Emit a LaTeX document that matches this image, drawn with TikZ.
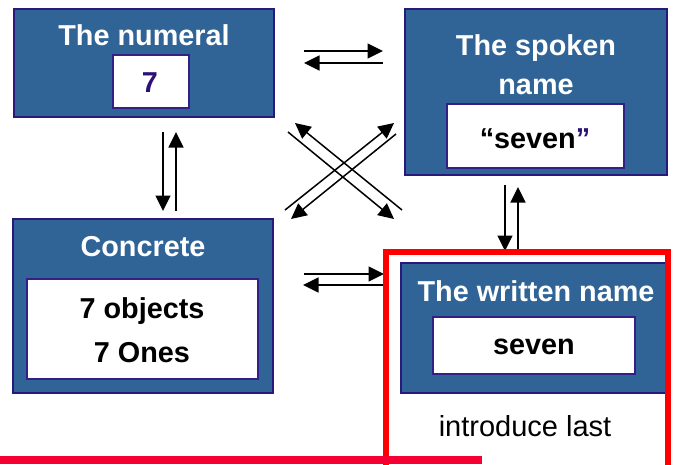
\documentclass[tikz,border=0pt]{standalone}
\usepackage{fontspec}
\setmainfont{Liberation Sans}
\usetikzlibrary{arrows.meta}
\definecolor{boxblue}{RGB}{48,99,150}
\definecolor{boxedge}{RGB}{40,26,124}
\definecolor{inedge}{RGB}{52,30,136}
\definecolor{numpurple}{RGB}{44,16,120}
\definecolor{markred}{RGB}{255,0,0}
\definecolor{barred}{RGB}{246,0,52}
\tikzset{
  bluebox/.style={draw=boxedge, line width=1.8pt, fill=boxblue, inner sep=0pt},
  whitebox/.style={draw=inedge, line width=1.6pt, fill=white, inner sep=0pt},
  title/.style={anchor=base, text=white, font=\fontsize{28.8}{30}\selectfont\bfseries, inner sep=0pt},
  content/.style={anchor=base, text=black, font=\fontsize{28.8}{30}\selectfont\bfseries, inner sep=0pt},
  note/.style={anchor=base, text=black, font=\fontsize{29}{30}\selectfont, inner sep=0pt},
  link/.style={line width=1.5pt, -{Triangle[length=15.5pt, width=15pt]}},
}
\begin{document}
\begin{tikzpicture}[x=1pt, y=-1pt]
\useasboundingbox (0,0) rectangle (674,464);

% The numeral
\node (num) [bluebox, minimum width=260pt, minimum height=108pt] at (144,63) {};
\node (numin) [whitebox, minimum width=76pt, minimum height=53pt] at (151,81.5) {};
\node (numt) [title] at (144,45) {The numeral};
\node (numv) [content, text=numpurple] at (150,92) {7};

% The spoken name
\node (spk) [bluebox, minimum width=262pt, minimum height=166pt] at (536,92) {};
\node (spkin) [whitebox, minimum width=177pt, minimum height=64pt] at (535.5,136) {};
\node (spkt1) [title] at (536,55) {The spoken};
\node (spkt2) [title] at (536,94) {name};
\node (spkv) [content] at (535,148) {“seven\textcolor{numpurple}{”}};

% Concrete
\node (con) [bluebox, minimum width=260pt, minimum height=174pt] at (143,306) {};
\node (conin) [whitebox, minimum width=231pt, minimum height=100pt] at (142.5,329) {};
\node (cont) [title] at (143,256) {Concrete};
\node (conv1) [content] at (142,318) {7 objects};
\node (conv2) [content] at (142,362) {7 Ones};

% The written name
\node (wri) [bluebox, minimum width=265pt, minimum height=130pt] at (533.5,328) {};
\node (wriin) [whitebox, minimum width=202pt, minimum height=57pt] at (534,345.5) {};
\node (writ) [title] at (536,301) {The written name};
\node (wriv) [content] at (534,354) {seven};
\node (wrinote) [note] at (525,436) {introduce last};

% arrow end points
\coordinate (t1a) at (304,51);  \coordinate (t1b) at (383,51);
\coordinate (t2a) at (383,63);  \coordinate (t2b) at (304,63);
\coordinate (l1a) at (163,132); \coordinate (l1b) at (163,211);
\coordinate (l2a) at (176,211); \coordinate (l2b) at (176,132);
\coordinate (r1a) at (505,185); \coordinate (r1b) at (505,251);
\coordinate (r2a) at (518,255); \coordinate (r2b) at (518,187);
\coordinate (b1a) at (304,274); \coordinate (b1b) at (384,274);
\coordinate (b2a) at (383,285); \coordinate (b2b) at (303,285);
\coordinate (xa1) at (402,210); \coordinate (xa2) at (295,123);
\coordinate (xb1) at (288,132); \coordinate (xb2) at (394,219);
\coordinate (xc1) at (285,210); \coordinate (xc2) at (394,123);
\coordinate (xd1) at (396,134); \coordinate (xd2) at (291,219);

% paired arrows between the four forms
\draw[link] (t1a) -- (t1b);
\draw[link] (t2a) -- (t2b);
\draw[link] (l1a) -- (l1b);
\draw[link] (l2a) -- (l2b);
\draw[link] (r1a) -- (r1b);
\draw[link] (r2a) -- (r2b);
\draw[link] (b1a) -- (b1b);
\draw[link] (b2a) -- (b2b);
\draw[link] (xa1) -- (xa2);
\draw[link] (xb1) -- (xb2);
\draw[link] (xc1) -- (xc2);
\draw[link] (xd1) -- (xd2);

% red frame round the written name, and the bar along the bottom
\draw[markred, line width=5.5pt] (386,472) -- (386,252) -- (668,252) -- (668,472);
\fill[barred] (0,456) rectangle (482,464);
\end{tikzpicture}
\end{document}
